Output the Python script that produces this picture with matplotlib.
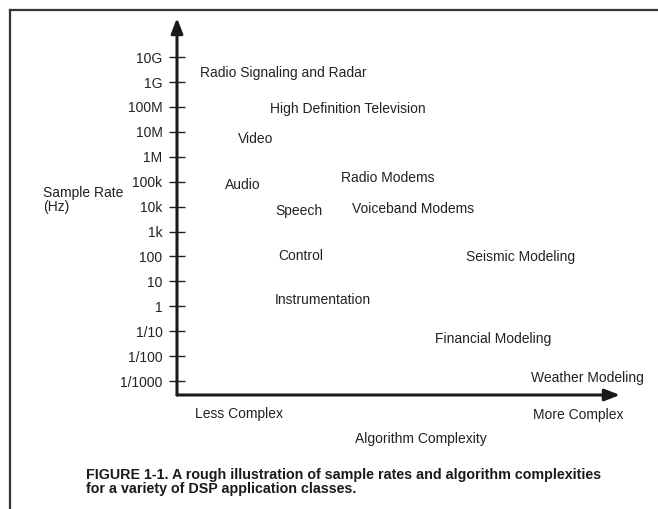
import matplotlib.pyplot as plt
from matplotlib.lines import Line2D

plt.rcParams['font.family'] = ['Liberation Sans', 'DejaVu Sans']

# application classes: (complexity 0..1, sample rate in Hz)
apps = ['Radio Signaling and Radar', 'High Definition Television', 'Video', 'Audio',
        'Speech', 'Radio Modems', 'Voiceband Modems', 'Control', 'Seismic Modeling',
        'Instrumentation', 'Financial Modeling', 'Weather Modeling']
complexity = [0.052, 0.21, 0.138, 0.108, 0.223, 0.37, 0.395, 0.228, 0.652, 0.221, 0.582, 0.80]
rate = [2.3e9, 8.3e7, 5.2e6, 7.4e4, 6.8e3, 1.4e5, 8.0e3, 105, 95, 1.8, 0.049, 0.0013]

tick_vals = [1e10, 1e9, 1e8, 1e7, 1e6, 1e5, 1e4, 1e3, 100, 10, 1, 0.1, 0.01, 0.001]
tick_labels = ['10G', '1G', '100M', '10M', '1M', '100k', '10k', '1k', '100', '10', '1',
               '1/10', '1/100', '1/1000']

W, H = 658, 509
fig = plt.figure(figsize=(W / 100, H / 100), dpi=100)
ax = fig.add_axes([177 / W, 114 / H, (W - 177) / W, (395 - 18) / H])
ax.set_yscale('log')
ax.set_xlim(0, 481 / 443)
ax.set_ylim(10 ** -3.56, 10 ** 11.57)
for s in ax.spines.values():
    s.set_visible(False)

ax.set_xticks([])
ax.set_yticks(tick_vals)
ax.set_yticklabels(tick_labels)
ax.minorticks_off()
ax.tick_params(axis='y', direction='inout', length=11, width=1.0, pad=5,
               labelsize=10, color='#222222', labelcolor='#222222')

# axes with arrows
ax.annotate('', xy=(0, 1), xycoords='axes fraction', xytext=(0, 0),
            arrowprops=dict(arrowstyle='-|>,head_length=0.9,head_width=0.35',
                            lw=2.2, color='#1a1a1a', shrinkA=0, shrinkB=0))
ax.annotate('', xy=(1.0, 0), xycoords=('data', 'axes fraction'), xytext=(0, 0),
            arrowprops=dict(arrowstyle='-|>,head_length=0.9,head_width=0.35',
                            lw=2.2, color='#1a1a1a', shrinkA=0, shrinkB=0))

for name, cx, r in zip(apps, complexity, rate):
    ax.text(cx, r, name, fontsize=10, color='#222222', ha='left', va='center')

fig.text(43 / W, 1 - 200 / H, 'Sample Rate\n(Hz)', fontsize=10, color='#222222',
         ha='left', va='center', linespacing=0.95)
fig.text(195 / W, 1 - 414 / H, 'Less Complex', fontsize=10, color='#222222', va='center')
fig.text(533 / W, 1 - 415 / H, 'More Complex', fontsize=10, color='#222222', va='center')
fig.text(355 / W, 1 - 439 / H, 'Algorithm Complexity', fontsize=10, color='#222222', va='center')
fig.text(86 / W, 1 - 481.5 / H,
         'FIGURE 1-1. A rough illustration of sample rates and algorithm complexities\n'
         'for a variety of DSP application classes.',
         fontsize=10.3, fontweight='bold', color='#1a1a1a', va='center', linespacing=1.0)

# page frame
fig.add_artist(Line2D([10 / W, 1], [1 - 10 / H, 1 - 10 / H], color='#333333', lw=1.6))
fig.add_artist(Line2D([10 / W, 10 / W], [1 - 10 / H, 0], color='#333333', lw=1.6))

fig.savefig('out.png', dpi=100)
